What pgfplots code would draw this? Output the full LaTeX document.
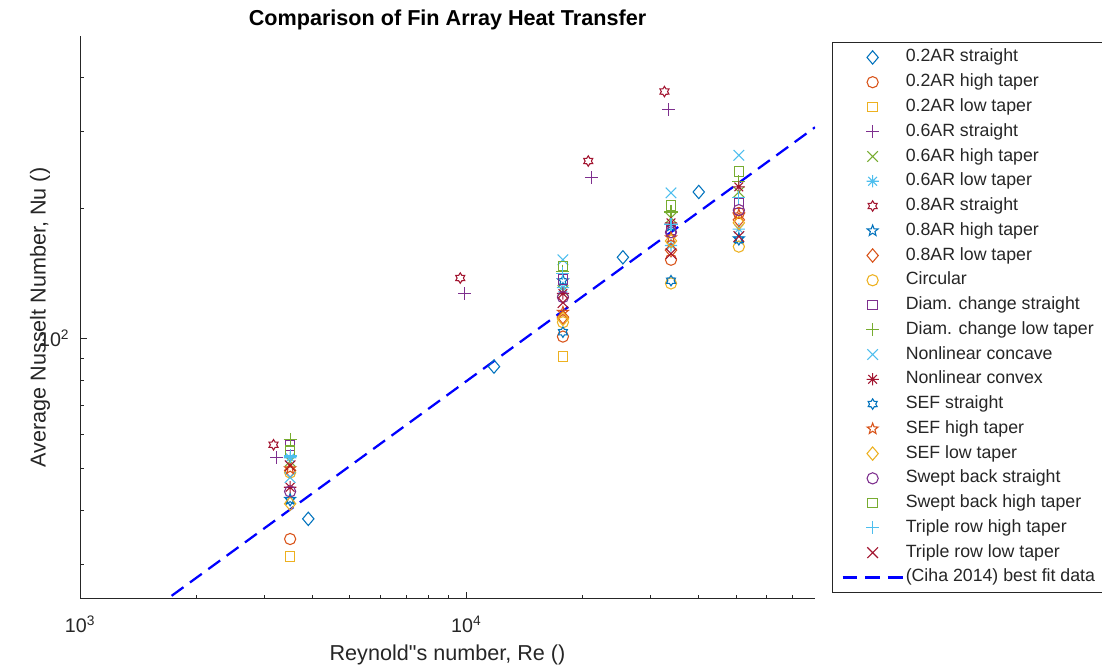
\documentclass[border=0pt]{standalone}
\usepackage{pgfplots}
\pgfplotsset{compat=1.18}
\usepackage{fontspec}
\setmainfont{Liberation Sans}[Ligatures=TeXOff]

\definecolor{mblue}{RGB}{0,114,189}
\definecolor{morange}{RGB}{217,83,25}
\definecolor{myellow}{RGB}{237,177,32}
\definecolor{mpurple}{RGB}{126,47,142}
\definecolor{mgreen}{RGB}{119,172,48}
\definecolor{mcyan}{RGB}{77,190,238}
\definecolor{mred}{RGB}{162,20,47}
\definecolor{axgray}{RGB}{38,38,38}

% outline marks in the style of the usual numerical-software markers
\pgfdeclareplotmark{mdiamond}{%
  \pgfpathmoveto{\pgfpoint{0pt}{\pgfplotmarksize}}%
  \pgfpathlineto{\pgfpoint{0.85\pgfplotmarksize}{0pt}}%
  \pgfpathlineto{\pgfpoint{0pt}{-\pgfplotmarksize}}%
  \pgfpathlineto{\pgfpoint{-0.85\pgfplotmarksize}{0pt}}%
  \pgfpathclose\pgfusepathqstroke}
\pgfdeclareplotmark{mast}{%
  \pgfpathmoveto{\pgfpoint{0pt}{\pgfplotmarksize}}\pgfpathlineto{\pgfpoint{0pt}{-\pgfplotmarksize}}%
  \pgfpathmoveto{\pgfpoint{\pgfplotmarksize}{0pt}}\pgfpathlineto{\pgfpoint{-\pgfplotmarksize}{0pt}}%
  \pgfpathmoveto{\pgfpoint{0.707\pgfplotmarksize}{0.707\pgfplotmarksize}}\pgfpathlineto{\pgfpoint{-0.707\pgfplotmarksize}{-0.707\pgfplotmarksize}}%
  \pgfpathmoveto{\pgfpoint{-0.707\pgfplotmarksize}{0.707\pgfplotmarksize}}\pgfpathlineto{\pgfpoint{0.707\pgfplotmarksize}{-0.707\pgfplotmarksize}}%
  \pgfusepathqstroke}
\pgfdeclareplotmark{pentagram}{%
  \pgfpathmoveto{\pgfpointpolar{90}{\pgfplotmarksize}}%
  \pgfpathlineto{\pgfpointpolar{126}{0.42\pgfplotmarksize}}%
  \pgfpathlineto{\pgfpointpolar{162}{\pgfplotmarksize}}%
  \pgfpathlineto{\pgfpointpolar{198}{0.42\pgfplotmarksize}}%
  \pgfpathlineto{\pgfpointpolar{234}{\pgfplotmarksize}}%
  \pgfpathlineto{\pgfpointpolar{270}{0.42\pgfplotmarksize}}%
  \pgfpathlineto{\pgfpointpolar{306}{\pgfplotmarksize}}%
  \pgfpathlineto{\pgfpointpolar{342}{0.42\pgfplotmarksize}}%
  \pgfpathlineto{\pgfpointpolar{18}{\pgfplotmarksize}}%
  \pgfpathlineto{\pgfpointpolar{54}{0.42\pgfplotmarksize}}%
  \pgfpathclose\pgfusepathqstroke}
\pgfdeclareplotmark{hexagram}{%
  \pgfpathmoveto{\pgfpointpolar{90}{\pgfplotmarksize}}%
  \pgfpathlineto{\pgfpointpolar{120}{0.6\pgfplotmarksize}}%
  \pgfpathlineto{\pgfpointpolar{150}{\pgfplotmarksize}}%
  \pgfpathlineto{\pgfpointpolar{180}{0.6\pgfplotmarksize}}%
  \pgfpathlineto{\pgfpointpolar{210}{\pgfplotmarksize}}%
  \pgfpathlineto{\pgfpointpolar{240}{0.6\pgfplotmarksize}}%
  \pgfpathlineto{\pgfpointpolar{270}{\pgfplotmarksize}}%
  \pgfpathlineto{\pgfpointpolar{300}{0.6\pgfplotmarksize}}%
  \pgfpathlineto{\pgfpointpolar{330}{\pgfplotmarksize}}%
  \pgfpathlineto{\pgfpointpolar{0}{0.6\pgfplotmarksize}}%
  \pgfpathlineto{\pgfpointpolar{30}{\pgfplotmarksize}}%
  \pgfpathlineto{\pgfpointpolar{60}{0.6\pgfplotmarksize}}%
  \pgfpathclose\pgfusepathqstroke}

\pgfplotsset{
  mk/.style n args={3}{only marks, color=#1, mark=#2, mark size=#3, line width=0.8pt, mark options={solid}},
  dia/.style={mk={#1}{mdiamond}{5pt}},
  cir/.style={mk={#1}{o}{4.2pt}},
  sqr/.style={mk={#1}{square}{3.6pt}},
  pls/.style={mk={#1}{+}{4.9pt}},
  crs/.style={mk={#1}{x}{5.6pt}},
  ast/.style={mk={#1}{mast}{4.6pt}},
  hex/.style={mk={#1}{hexagram}{3.9pt}},
  pen/.style={mk={#1}{pentagram}{4.3pt}},
}

\begin{document}
\begin{tikzpicture}
\useasboundingbox (0pt,0pt) rectangle (826.5pt,502.5pt);
\begin{axis}[
  at={(60pt,53.25pt)}, anchor=south west,
  scale only axis, width=551.25pt, height=422.25pt,
  xmode=log, ymode=log,
  xmin=1000, xmax=80000, ymin=25, ymax=500,
  axis x line=bottom, axis y line=left,
  axis line style={-, line width=0.75pt, color=axgray},
  tick align=inside,
  major tick length=5.5pt, minor tick length=3pt,
  every tick/.style={line width=0.75pt, color=axgray},
  xtick={1000,10000}, xticklabels={10\textsuperscript{3},10\textsuperscript{4}},
  ytick={100}, yticklabels={10\textsuperscript{2}},
  minor xtick={2000,3000,4000,5000,6000,7000,8000,9000,20000,30000,40000,50000,60000,70000},
  minor ytick={30,40,50,60,70,80,90,200,300,400},
  ticklabel style={font=\fontsize{14.75}{17}\selectfont, text=axgray},
  xticklabel style={yshift=-9pt},
  yticklabel style={xshift=-4.5pt},
  xlabel={Reynold"s number, Re ()},
  ylabel={Average Nusselt Number, Nu ()},
  label style={font=\fontsize{16.2}{19}\selectfont, text=axgray},
  xlabel style={at={(rel axis cs:0.5,-0.0995)}, anchor=center},
  ylabel style={at={(rel axis cs:-0.0544,0.5)}, anchor=center},
  title={Comparison of Fin Array Heat Transfer},
  title style={font=\bfseries\fontsize{16.2}{19}\selectfont, at={(rel axis cs:0.5,1.0142)}, anchor=center},
  legend style={
    at={(rel axis cs:1.0231,0.9893)}, anchor=north west,
    draw=axgray, line width=0.75pt, fill=white,
    font=\fontsize{13.3}{15}\selectfont, text=axgray,
    inner xsep=6.75pt, inner ysep=5pt,
    row sep=6.17pt,
    nodes={inner xsep=1.5pt, inner ysep=0pt, text height=9.6pt, text depth=2.8pt},
  },
  legend cell align=left,
  legend image code/.code={\draw[mark repeat=2,mark phase=2,#1] plot coordinates {(0pt,0pt) (22.5pt,0pt) (45pt,0pt)};},
  clip=true,
]
\addplot[dia=mblue] table[row sep=\\] {x y\\ 3900 38.3\\ 11800 86.1\\ 25450 154\\ 40000 218\\};
\addlegendentry{0.2AR straight}
\addplot[cir=morange] table[row sep=\\] {x y\\ 3500 34.4\\ 17800 101\\ 33900 152\\ 50800 195\\};
\addlegendentry{0.2AR high taper}
\addplot[sqr=myellow] table[row sep=\\] {x y\\ 3500 31.3\\ 17800 90.9\\};
\addlegendentry{0.2AR low taper}
\addplot[pls=mpurple] table[row sep=\\] {x y\\ 3230 53.1\\ 9920 126.9\\ 21100 235\\ 33450 338\\};
\addlegendentry{0.6AR straight}
\addplot[crs=mgreen] table[row sep=\\] {x y\\ 3500 52\\ 17800 129\\ 33900 190\\ 50800 218\\};
\addlegendentry{0.6AR high taper}
\addplot[ast=mcyan] table[row sep=\\] {x y\\ 3500 53\\ 17800 131\\ 33900 164\\ 50800 179\\};
\addlegendentry{0.6AR low taper}
\addplot[hex=mred] table[row sep=\\] {x y\\ 3170 56.8\\ 9650 137.9\\ 20700 257\\ 32600 372\\};
\addlegendentry{0.8AR straight}
\addplot[pen=mblue] table[row sep=\\] {x y\\ 3500 42.5\\ 17800 136\\ 33900 182\\ 50800 170\\};
\addlegendentry{0.8AR high taper}
\addplot[dia=morange] table[row sep=\\] {x y\\ 3500 49.5\\ 17800 112\\ 33900 160\\ 50800 188\\};
\addlegendentry{0.8AR low taper}
\addplot[cir=myellow] table[row sep=\\] {x y\\ 3500 49\\ 17800 109\\ 33900 134\\ 50800 163\\};
\addlegendentry{Circular}
\addplot[sqr=mpurple] table[row sep=\\] {x y\\ 3500 56.6\\ 17800 137\\ 33900 178\\ 50800 205\\};
\addlegendentry{Diam. change straight}
\addplot[pls=mgreen] table[row sep=\\] {x y\\ 3500 58.3\\ 17800 143\\ 33900 196\\ 50800 230\\};
\addlegendentry{Diam. change low taper}
\addplot[crs=mcyan] table[row sep=\\] {x y\\ 3500 47.7\\ 17800 152\\ 33900 217\\ 50800 265\\};
\addlegendentry{Nonlinear concave}
\addplot[ast=mred] table[row sep=\\] {x y\\ 3500 45.3\\ 17800 127\\ 33900 185\\ 50800 224\\};
\addlegendentry{Nonlinear convex}
\addplot[hex=mblue] table[row sep=\\] {x y\\ 3500 42.2\\ 17800 103.4\\ 33900 136\\ 50800 169\\};
\addlegendentry{SEF straight}
\addplot[pen=morange] table[row sep=\\] {x y\\ 3500 50\\ 17800 115\\ 33900 171\\ 50800 193\\};
\addlegendentry{SEF high taper}
\addplot[dia=myellow] table[row sep=\\] {x y\\ 3500 41.5\\ 17800 111\\ 33900 168\\ 50800 185\\};
\addlegendentry{SEF low taper}
\addplot[cir=mpurple] table[row sep=\\] {x y\\ 3500 44.3\\ 17800 124.6\\ 33900 176\\ 50800 198\\};
\addlegendentry{Swept back straight}
\addplot[sqr=mgreen] table[row sep=\\] {x y\\ 3500 55\\ 17800 147\\ 33900 203\\ 50800 243\\};
\addlegendentry{Swept back high taper}
\addplot[pls=mcyan] table[row sep=\\] {x y\\ 3500 53.5\\ 17800 141\\ 33900 183\\ 50800 212\\};
\addlegendentry{Triple row high taper}
\addplot[crs=mred] table[row sep=\\] {x y\\ 3500 50.8\\ 17800 121\\ 33900 157\\ 50800 172\\};
\addlegendentry{Triple row low taper}
\addplot[color=blue, line width=1.7pt, dash pattern=on 11pt off 6pt] table[row sep=\\] {x y\\ 1000 17.83\\ 80000 307.6\\};
\addlegendentry{(Ciha 2014) best fit data}
\end{axis}
\end{tikzpicture}
\end{document}
